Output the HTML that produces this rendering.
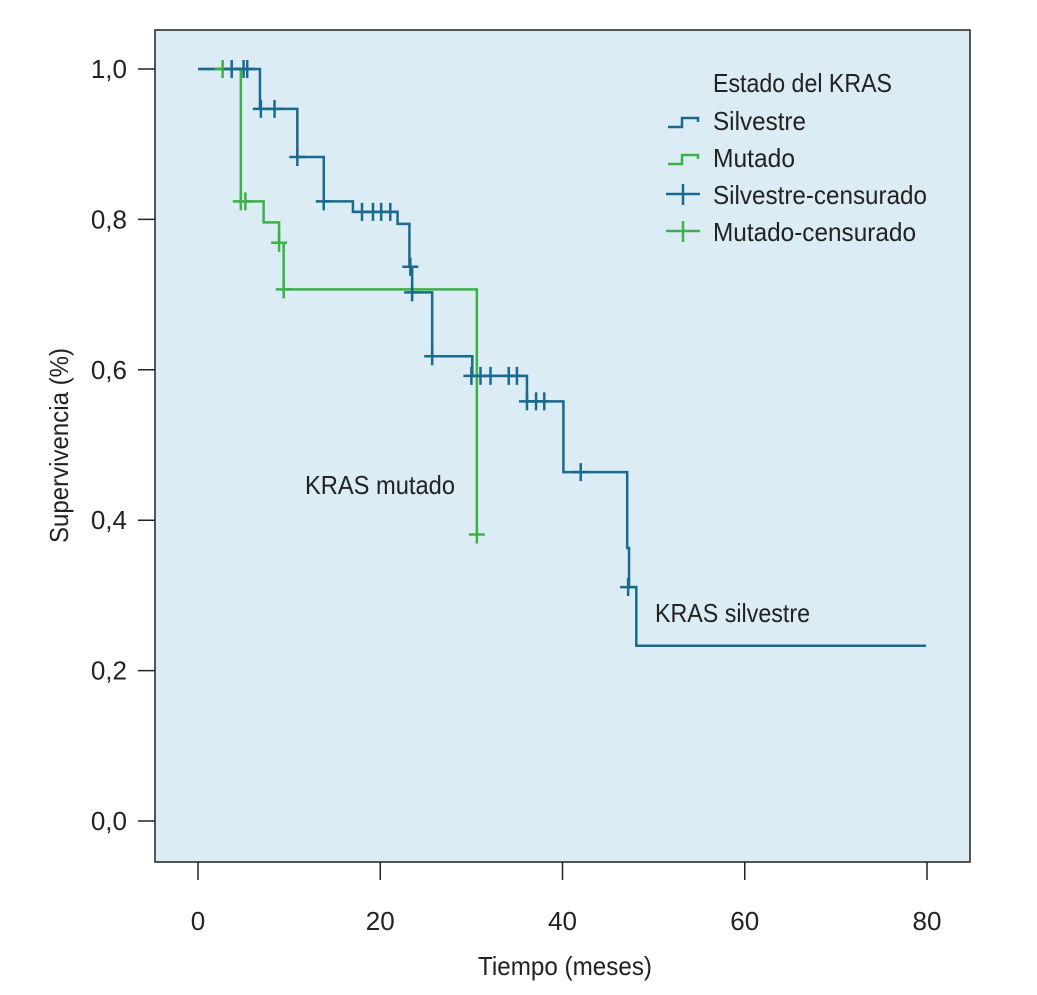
<!DOCTYPE html>
<html><head><meta charset="utf-8"><style>
html,body{margin:0;padding:0;background:#fff;}
svg{display:block;font-family:"Liberation Sans Narrow","Liberation Sans",sans-serif;}
</style></head><body>
<svg id="chart" width="1037" height="995" viewBox="0 0 1037 995" xmlns="http://www.w3.org/2000/svg">
<rect x="155" y="30" width="815" height="832" fill="#dcecf4" stroke="#222" stroke-width="1.5"/>
<g id="axes"></g>
<g id="series"></g>
<text transform="translate(68,543) rotate(-90)" font-size="26" fill="#222" textLength="195" lengthAdjust="spacingAndGlyphs">Supervivencia (%)</text>
<text x="478" y="975" font-size="26" fill="#222" textLength="174" lengthAdjust="spacingAndGlyphs">Tiempo (meses)</text>
<text x="305" y="494" font-size="26" fill="#222" textLength="150" lengthAdjust="spacingAndGlyphs">KRAS mutado</text>
<text x="655" y="622" font-size="26" fill="#222" textLength="155" lengthAdjust="spacingAndGlyphs">KRAS silvestre</text>
<g>
<text x="713" y="92" font-size="26" fill="#222" textLength="179" lengthAdjust="spacingAndGlyphs">Estado del KRAS</text>
<path d="M668,127 H682 V118 H698 V122" fill="none" stroke="#1a6a8e" stroke-width="2.5"/>
<text x="713" y="130" font-size="26" fill="#222" textLength="93" lengthAdjust="spacingAndGlyphs">Silvestre</text>
<path d="M668,164 H682 V155 H698 V159" fill="none" stroke="#3cb14a" stroke-width="2.5"/>
<text x="713" y="167" font-size="26" fill="#222" textLength="82" lengthAdjust="spacingAndGlyphs">Mutado</text>
<path d="M666,194 H700 M683,184 V205" fill="none" stroke="#1a6a8e" stroke-width="2.5"/>
<text x="713" y="204" font-size="26" fill="#222" textLength="214" lengthAdjust="spacingAndGlyphs">Silvestre-censurado</text>
<path d="M666,231 H700 M683,221 V242" fill="none" stroke="#3cb14a" stroke-width="2.5"/>
<text x="713" y="241" font-size="26" fill="#222" textLength="203" lengthAdjust="spacingAndGlyphs">Mutado-censurado</text>
</g>
</svg>
<script>
const xTicks = [0, 20, 40, 60, 80];
const yTicks = [0, 0.2, 0.4, 0.6, 0.8, 1.0];
const yTickLabels = ["0,0", "0,2", "0,4", "0,6", "0,8", "1,0"];
// step curves: [time, survival] after each step
const silvestreTimes = [0, 6.8, 10.9, 13.8, 17.0, 21.9, 23.2, 23.5, 25.7, 30.1, 36.1, 40.1, 47.1, 47.3, 48.1, 79.9];
const silvestreSurv = [1.0, 0.947, 0.883, 0.824, 0.81, 0.794, 0.737, 0.703, 0.618, 0.592, 0.558, 0.464, 0.363, 0.311, 0.233, 0.233];
const silvestreCensorT = [3.7, 5.0, 5.4, 6.9, 8.4, 10.9, 13.8, 18.0, 19.2, 20.1, 21.1, 23.3, 23.5, 25.7, 30.0, 31.0, 32.1, 34.1, 35.0, 36.1, 37.1, 38.0, 42.0, 47.2];
const silvestreCensorS = [1.0, 1.0, 1.0, 0.947, 0.947, 0.883, 0.824, 0.81, 0.81, 0.81, 0.81, 0.737, 0.703, 0.618, 0.592, 0.592, 0.592, 0.592, 0.592, 0.558, 0.558, 0.558, 0.464, 0.311];
const mutadoTimes = [0.2, 4.7, 7.2, 8.9, 9.4, 30.6];
const mutadoSurv = [1.0, 0.824, 0.796, 0.769, 0.707, 0.381];
const mutadoCensorT = [2.7, 4.7, 5.2, 8.9, 9.4, 30.6];
const mutadoCensorS = [1.0, 0.824, 0.824, 0.769, 0.707, 0.381];

const NS = "http://www.w3.org/2000/svg";
const xS = t => 198 + t * (729 / 80);
const yS = s => 821 - s * 752;
const axes = document.getElementById("axes");
const series = document.getElementById("series");
function mk(tag, attrs, parent) {
  const e = document.createElementNS(NS, tag);
  for (const k in attrs) e.setAttribute(k, attrs[k]);
  parent.appendChild(e);
  return e;
}
xTicks.forEach((v) => {
  const l = mk("line", {x1: xS(v), x2: xS(v), y1: 862, y2: 880, stroke: "#222", "stroke-width": 1.5}, axes);
  
  
  const t = mk("text", {x: xS(v), y: 930, "font-size": 26, "text-anchor": "middle", fill: "#222"}, axes);
  
  
  t.textContent = String(v);
});
yTicks.forEach((v, i) => {
  const l = mk("line", {x1: 138, x2: 155, y1: yS(v), y2: yS(v), stroke: "#222", "stroke-width": 1.5}, axes);
  
  
  const t = mk("text", {x: 127, y: yS(v) + 9, "font-size": 26, "text-anchor": "end", fill: "#222"}, axes);
  
  
  t.textContent = yTickLabels[i];
});
function curve(times, surv, color, name) {
  let d = "M" + xS(times[0]) + "," + yS(surv[0]);
  for (let i = 1; i < times.length; i++) {
    d += " H" + xS(times[i]) + " V" + yS(surv[i]);
  }
  const p = mk("path", {d: d, fill: "none", stroke: color, "stroke-width": 2.5}, series);
  
  
}
function censors(ts, ss, color, name) {
  ts.forEach((t, i) => {
    const x = xS(t), y = yS(ss[i]);
    const p = mk("path", {d: `M${x - 8},${y} H${x + 8} M${x},${y - 9} V${y + 9}`, fill: "none", stroke: color, "stroke-width": 2.5}, series);
    
    
  });
}
curve(mutadoTimes, mutadoSurv, "#3cb14a", "mutado-curve");
curve(silvestreTimes, silvestreSurv, "#1a6a8e", "silvestre-curve");
censors(mutadoCensorT, mutadoCensorS, "#3cb14a", "mutado-censor-mark");
censors(silvestreCensorT, silvestreCensorS, "#1a6a8e", "silvestre-censor-mark");
</script>
</body></html>
